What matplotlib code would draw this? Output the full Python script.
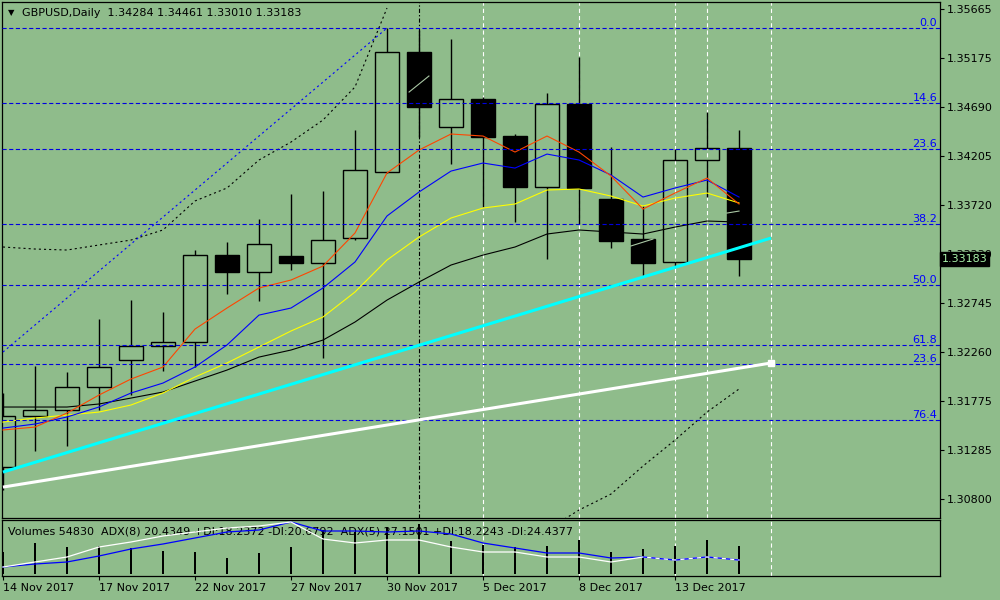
#! /usr/bin/env python3
import matplotlib
matplotlib.use("Agg")
from matplotlib import pyplot as plt
from matplotlib.patches import Rectangle
import matplotlib.transforms as mtransforms

BG = "#8fbc8b"

# daily GBPUSD bars, 14 Nov 2017 .. 15 Dec 2017
opens = [1.31117, 1.31624, 1.31683, 1.31911, 1.32180, 1.32319, 1.32358, 1.33222,
         1.33053, 1.33212, 1.33143, 1.33391, 1.34046, 1.35238, 1.34493, 1.34771,
         1.34404, 1.33897, 1.34722, 1.33778, 1.33381, 1.33153, 1.34166, 1.34284]
highs = [1.31852, 1.32120, 1.32060, 1.32587, 1.32775, 1.32656, 1.33272, 1.33351,
         1.33580, 1.33828, 1.33858, 1.34464, 1.35476, 1.35460, 1.35367, 1.34791,
         1.34424, 1.34831, 1.35188, 1.34295, 1.33709, 1.34275, 1.34642, 1.34461]
lows = [1.30889, 1.31276, 1.31326, 1.31683, 1.31832, 1.32070, 1.32110, 1.32835,
        1.32765, 1.33073, 1.32199, 1.33371, 1.34037, 1.34394, 1.34126, 1.33699,
        1.33550, 1.33183, 1.33530, 1.33292, 1.33014, 1.33103, 1.33798, 1.33010]
closes = [1.31624, 1.31683, 1.31911, 1.32110, 1.32319, 1.32358, 1.33222, 1.33053,
          1.33331, 1.33143, 1.33371, 1.34066, 1.35238, 1.34692, 1.34771, 1.34394,
          1.33897, 1.34722, 1.33888, 1.33361, 1.33143, 1.34166, 1.34285, 1.33183]

ma_red = [1.31485, 1.31514, 1.31653, 1.31832, 1.31991, 1.32110, 1.32487, 1.32696,
          1.32895, 1.32974, 1.33113, 1.33441, 1.34037, 1.34265, 1.34424, 1.34404,
          1.34245, 1.34404, 1.34245, 1.34007, 1.33679, 1.33838, 1.33987, 1.33729]
ma_blue = [1.31504, 1.31544, 1.31614, 1.31713, 1.31852, 1.31951, 1.32110, 1.32329,
           1.32626, 1.32696, 1.32895, 1.33153, 1.33610, 1.33848, 1.34056, 1.34136,
           1.34086, 1.34225, 1.34166, 1.34017, 1.33798, 1.33888, 1.33967, 1.33798]
ma_yellow = [1.31564, 1.31604, 1.31633, 1.31663, 1.31733, 1.31852, 1.32011, 1.32150,
             1.32309, 1.32468, 1.32607, 1.32855, 1.33173, 1.33401, 1.33590, 1.33689,
             1.33729, 1.33868, 1.33878, 1.33808, 1.33709, 1.33788, 1.33838, 1.33739]
ma_black = [1.31713, 1.31713, 1.31713, 1.31743, 1.31802, 1.31862, 1.31971, 1.32080,
            1.32209, 1.32279, 1.32378, 1.32557, 1.32775, 1.32954, 1.33123, 1.33222,
            1.33302, 1.33431, 1.33471, 1.33451, 1.33431, 1.33500, 1.33560, 1.33550]

band_upper_bars = list(range(13))
band_upper = [1.33302, 1.33282, 1.33272, 1.33322, 1.33371, 1.33471, 1.33759, 1.33888,
              1.34166, 1.34344, 1.34563, 1.34891, 1.35675]
band_lower_bars = list(range(17, 24))
band_lower = [1.30492, 1.30690, 1.30849, 1.31127, 1.31385, 1.31663, 1.31892]

# short pale segments seen inside the black bodies
pale_segments = [([12.69, 13.31], [1.34841, 1.35000]),
                 ([19.62, 20.31], [1.33312, 1.33381]),
                 ([22.62, 23.0], [1.33639, 1.33659])]

# trend lines (bar, price) end points
cyan_line = ([0, 24], [1.31067, 1.33391])
white_line = ([0, 24], [1.30918, 1.32150])
blue_trend = ([0, 12], [1.32259, 1.35476])

fib_prices = [1.35476, 1.34732, 1.34275, 1.33530, 1.32924, 1.32329, 1.32140, 1.31584]
fib_labels = ["0.0", "14.6", "23.6", "38.2", "50.0", "61.8", "23.6", "76.4"]

price_ticks = [1.35665, 1.35175, 1.34690, 1.34205, 1.33720, 1.33230, 1.32745,
               1.32260, 1.31775, 1.31285, 1.30800]

volumes = [42990, 60570, 52760, 53740, 50800, 44940, 42990, 31260, 41030, 52760,
           85980, 82070, 92420, 97702, 64480, 56670, 52760, 54710, 66440, 42990,
           48850, 54710, 66440, 54830]
adx_white = [9, 14, 19, 29, 34, 40, 44, 48, 50, 54, 37, 33, 36, 36, 29, 24, 24, 19,
             19, 14, 19, 16, 19, 16]
adx_blue = [9, 12, 14, 20, 27, 32, 38, 44, 46, 54, 45, 45, 44, 45, 42, 33, 28, 23,
            23, 18, 19, 16, 19, 16]

date_bars = [0, 3, 6, 9, 12, 15, 18, 21]
date_labels = ["14 Nov 2017", "17 Nov 2017", "22 Nov 2017", "27 Nov 2017",
               "30 Nov 2017", "5 Dec 2017", "8 Dec 2017", "13 Dec 2017"]

vlines_main = [15, 18, 21, 22, 24]
vlines_sub = [15, 18, 21, 24]
dashdot_bar = 13

plt.rcParams["font.family"] = ["DejaVu Sans"]
plt.rcParams["font.size"] = 8
plt.rcParams["lines.scale_dashes"] = False


def main():
    fig = plt.figure(figsize=(10, 6), dpi=100, facecolor=BG)
    ax = fig.add_axes([0.002, 1 - 518 / 600, 0.938, 516 / 600])
    ax2 = fig.add_axes([0.002, 1 - 576 / 600, 0.938, 56 / 600])
    xlim = (-0.03, 29.28)

    draw_main(ax, xlim)
    draw_volumes(ax2, xlim)

    fig.text(0.008, 1 - 12.5 / 600, "\u25bc", fontsize=6, va="center")
    fig.text(0.022, 1 - 12.5 / 600, "GBPUSD,Daily  %.5f %.5f %.5f %.5f"
             % (opens[-1], highs[-1], lows[-1], closes[-1]), va="center")

    fig.savefig("out.png", dpi=100, facecolor=BG)


def draw_main(ax, xlim):
    ax.set_facecolor(BG)
    ax.set_xlim(*xlim)
    ax.set_ylim(1.30611, 1.35735)
    for s in ax.spines.values():
        s.set_linewidth(0.9)
        s.set_color("black")

    for b in vlines_main:
        ax.axvline(b, color="white", lw=0.8, ls=(0, (3, 2.2)), zorder=1)
    ax.axvline(dashdot_bar, color="black", lw=0.8, ls=(0, (3, 1.5, 1, 1.5)), zorder=1)

    for i in range(len(opens)):
        o, h, l, c = opens[i], highs[i], lows[i], closes[i]
        top, bot = max(o, c), min(o, c)
        ax.plot([i, i], [top, h], color="black", lw=1.0, zorder=3, solid_capstyle="butt")
        ax.plot([i, i], [l, bot], color="black", lw=1.0, zorder=3, solid_capstyle="butt")
        face = "black" if c < o else "none"
        ax.add_patch(Rectangle((i - 0.38, bot), 0.76, top - bot, facecolor=face,
                               edgecolor="black", lw=1.0, zorder=3))

    bars = list(range(len(opens)))
    ax.plot(bars, ma_black, color="black", lw=0.8, zorder=4)
    ax.plot(bars, ma_yellow, color="yellow", lw=0.8, zorder=4)
    ax.plot(bars, ma_blue, color="blue", lw=0.8, zorder=4)
    ax.plot(bars, ma_red, color="#ff4500", lw=0.8, zorder=4)

    ax.plot(band_upper_bars, band_upper, color="black", lw=0.8, ls=(0, (1.5, 2.2)), zorder=4)
    ax.plot(band_lower_bars, band_lower, color="black", lw=0.8, ls=(0, (1.5, 2.2)), zorder=4)
    for xs, ys in pale_segments:
        ax.plot(xs, ys, color="#a9c7a4", lw=0.8, zorder=5)

    for p, lab in zip(fib_prices, fib_labels):
        ax.axhline(p, color="#0000e0", lw=0.8, ls=(0, (3, 1.8)), zorder=5)
        ax.text(0.997, p, lab, color="#0000ff", ha="right", va="bottom",
                transform=mtransforms.blended_transform_factory(ax.transAxes, ax.transData),
                zorder=6)

    ax.plot(*blue_trend, color="blue", lw=0.8, ls=(0, (1.5, 2.2)), zorder=5)
    ax.plot(*cyan_line, color="cyan", lw=2.2, zorder=6, solid_capstyle="butt")
    ax.plot(*white_line, color="white", lw=2.2, zorder=6, solid_capstyle="butt")
    ax.plot(white_line[0][-1], white_line[1][-1], marker="s", ms=4.5, color="white", zorder=7)

    ax.set_xticks([])
    ax.yaxis.tick_right()
    ax.set_yticks(price_ticks)
    ax.set_yticklabels(["%.5f" % t for t in price_ticks])
    ax.tick_params(axis="y", length=3, width=0.8, pad=2, labelsize=8)

    ax.text(1.002, closes[-1], "%.5f" % closes[-1], color="#a8f0a8", ha="left", va="center",
            transform=mtransforms.blended_transform_factory(ax.transAxes, ax.transData),
            bbox=dict(facecolor="black", edgecolor="black", pad=1.2), clip_on=False, zorder=10)


def draw_volumes(ax2, xlim):
    ax2.set_facecolor(BG)
    ax2.set_xlim(*xlim)
    ax2.set_ylim(-3908, 105516)
    for s in ax2.spines.values():
        s.set_linewidth(0.9)
        s.set_color("black")

    for b in vlines_sub:
        ax2.axvline(b, color="white", lw=0.8, ls=(0, (3, 2.2)), zorder=1)
    ax2.bar(range(len(volumes)), volumes, width=0.065, color="black", zorder=3)

    ax2.text(0.006, 0.80, "Volumes %d  ADX(8) 20.4349 +DI:18.2372 -DI:20.6792  "
             "ADX(5) 27.1501 +DI:18.2243 -DI:24.4377" % volumes[-1],
             transform=ax2.transAxes, va="center", zorder=2)

    ax2.yaxis.tick_right()
    ax2.set_yticks([0, max(volumes)])
    ax2.set_yticklabels(["0", str(max(volumes))])
    ax2.tick_params(axis="y", length=0, pad=5, labelsize=8)
    fig = ax2.figure
    shifts = [6 / 100, -5 / 100]
    for lab, dy in zip(ax2.get_yticklabels(), shifts):
        lab.set_transform(lab.get_transform()
                          + mtransforms.ScaledTranslation(0, dy, fig.dpi_scale_trans))

    ax2.set_xticks(date_bars)
    ax2.set_xticklabels(date_labels)
    ax2.tick_params(axis="x", length=3, width=0.8, pad=2, labelsize=8)
    for lab in ax2.get_xticklabels():
        lab.set_horizontalalignment("left")

    ax3 = ax2.twinx()
    ax3.set_ylim(0, 56)
    ax3.set_yticks([])
    ax3.patch.set_visible(False)
    for s in ax3.spines.values():
        s.set_visible(False)
    bars = list(range(len(adx_blue)))
    ax3.plot(bars, adx_blue, color="blue", lw=0.9)
    ax3.plot(bars, adx_white, color="white", lw=0.9)
    ax3.plot(bars[20:], adx_blue[20:], color="blue", lw=0.9, ls=(0, (3, 3)))


if __name__ == "__main__":
    main()
